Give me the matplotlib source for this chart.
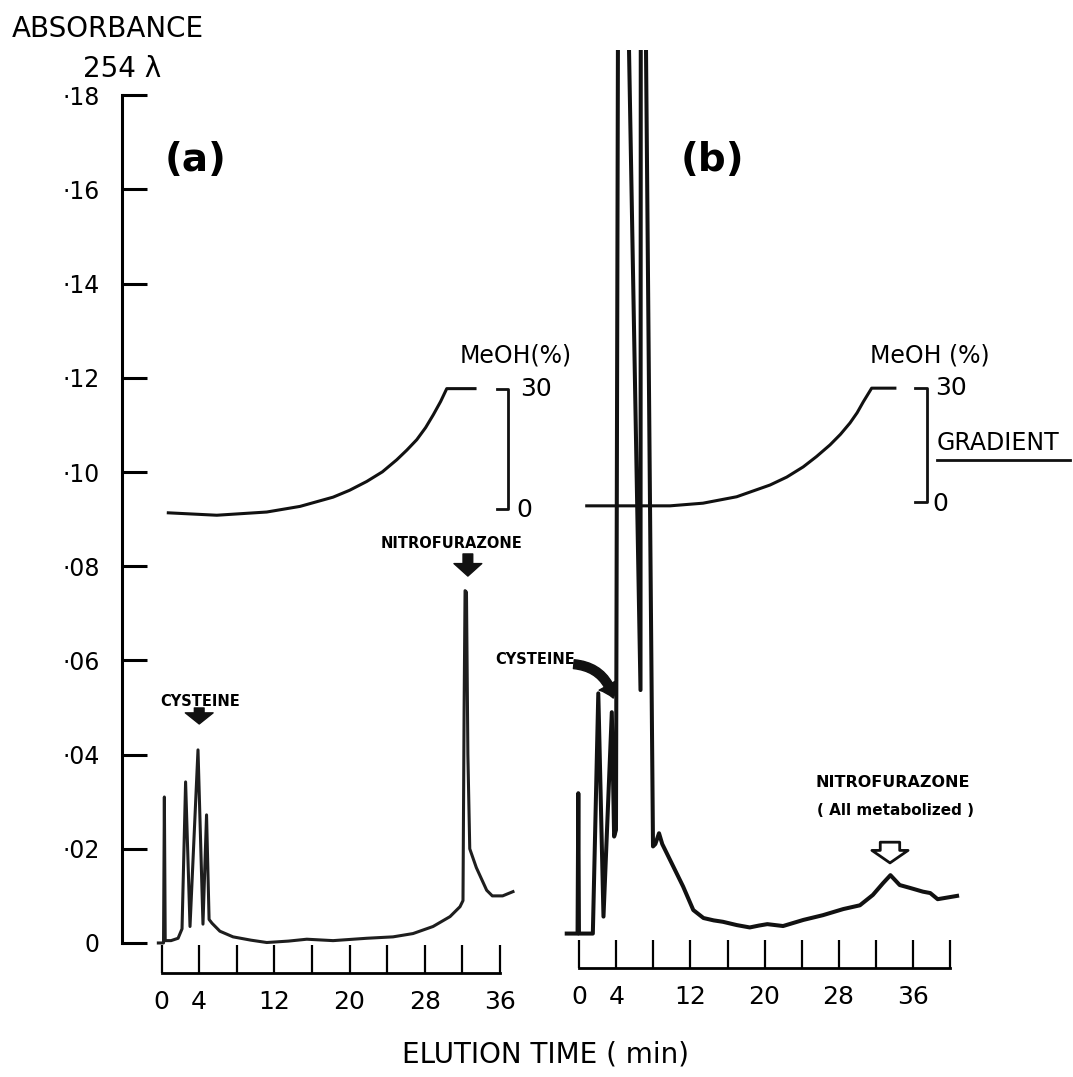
import matplotlib.pyplot as plt

plt.rcParams['font.family'] = ['DejaVu Sans']

# ---- panel (a): elution time (min) vs absorbance at 254 nm
time_a = [-0.35, 0.2, 0.29, 0.38, 1.0, 1.75, 2.17, 2.55, 3.02, 3.87, 4.4, 4.78, 5.05,
          5.36, 6.2, 7.6, 9.5, 11.19, 13.5, 15.45, 18.25, 21.83, 24.63, 26.76, 28.89,
          30.7, 31.76, 32.08, 32.2, 32.3, 32.45, 32.6, 32.8, 33.5, 34.6, 35.2, 36.3, 37.4]
abs_a = [0.0, 0.0, 0.031, 0.0005, 0.0005, 0.001, 0.003, 0.0342, 0.0035, 0.041, 0.004,
         0.0272, 0.005, 0.0042, 0.0025, 0.0013, 0.0006, 0.0001, 0.0004, 0.0008, 0.0005,
         0.001, 0.0013, 0.002, 0.0035, 0.0056, 0.0077, 0.009, 0.05, 0.0748, 0.0745,
         0.04, 0.020, 0.016, 0.0112, 0.0100, 0.0100, 0.0109]

# MeOH gradient (a), percent
grad_time_a = [0.71, 5.87, 11.19, 14.73, 18.25, 20.0, 21.83, 23.5, 25.03, 26.1, 27.16,
               28.1, 28.92, 29.7, 30.35, 33.36]
grad_pct_a = [-0.9, -1.5, -0.7, 0.7, 3.0, 4.7, 6.9, 9.3, 12.3, 14.7, 17.3, 20.3, 23.5,
              26.8, 30.0, 30.0]

# ---- panel (b)
time_b = [-1.37, -0.2, -0.12, -0.05, 1.45, 2.04, 2.6, 3.5, 3.75, 3.95, 4.3, 4.35, 6.6,
          6.65, 6.7, 7.95, 8.2, 8.6, 8.95, 9.8, 11.2, 12.3, 13.4, 14.5, 15.5, 17.0, 18.4,
          19.4, 20.3, 22.0, 24.2, 26.3, 28.5, 30.3, 31.7, 32.8, 33.6, 34.6, 35.7, 37.1,
          37.9, 38.7, 40.8]
abs_b = [0.002, 0.002, 0.0318, 0.002, 0.002, 0.053, 0.0056, 0.049, 0.0226, 0.024, 0.30,
         0.30, 0.0537, 0.30, 0.30, 0.0205, 0.021, 0.0233, 0.021, 0.0176, 0.012, 0.007,
         0.0053, 0.0048, 0.0045, 0.0038, 0.0033, 0.0037, 0.004, 0.0036, 0.0049, 0.0059,
         0.0072, 0.008, 0.0102, 0.0127, 0.0144, 0.0123, 0.0117, 0.0109, 0.0106, 0.0093,
         0.010]

grad_time_b = [0.79, 9.79, 13.35, 16.99, 20.59, 22.4, 24.18, 25.6, 27.07, 28.2, 29.23,
               30.0, 30.67, 31.57, 34.08]
grad_pct_b = [-1.1, -1.1, -0.4, 1.3, 4.4, 6.5, 9.2, 11.9, 15.0, 17.8, 20.8, 23.5, 26.4,
              30.0, 30.0]

abs_ticks = [0, 0.02, 0.04, 0.06, 0.08, 0.10, 0.12, 0.14, 0.16, 0.18]
abs_labels = ['0', '·02', '·04', '·06', '·08', '·10', '·12', '·14', '·16', '·18']
time_ticks_a = [0, 4, 8, 12, 16, 20, 24, 28, 32, 36]
time_labels_a = ['0', '4', '', '12', '', '20', '', '28', '', '36']
time_ticks_b = [0, 4, 8, 12, 16, 20, 24, 28, 32, 36, 40]
time_labels_b = ['0', '4', '', '12', '', '20', '', '28', '', '36', '']

# gradient scale bars: absorbance level of 0 % and 30 % MeOH
grad_zero_a, grad_top_a = 0.0921, 0.1177
grad_zero_b, grad_top_b = 0.0937, 0.1178


def pct_to_abs(pct, zero, top):
    return [zero + p / 30.0 * (top - zero) for p in pct]


W, H = 1073, 1077
fig = plt.figure(figsize=(W / 100, H / 100), dpi=100)
ylim = (-0.012, 0.1896)
bottom = 1 - 999.5 / H
height = 949.5 / H
ax_a = fig.add_axes([122 / W, bottom, 401.3 / W, height])
ax_b = fig.add_axes([560.9 / W, bottom, 407.3 / W, height])
ax_a.set_xlim(-4.22, 38.5)
ax_b.set_xlim(-2, 42)
for ax in (ax_a, ax_b):
    ax.set_ylim(*ylim)
    ax.patch.set_visible(False)
    for s in ('top', 'right'):
        ax.spines[s].set_visible(False)

ink = '#111111'

# traces
ax_a.plot(time_a, abs_a, color='#1e1e1e', lw=2.2, solid_joinstyle='round')
ax_b.plot(time_b, abs_b, color=ink, lw=2.9, solid_joinstyle='round')

ax_a.plot(grad_time_a, pct_to_abs(grad_pct_a, grad_zero_a, grad_top_a), color=ink, lw=2.2)
ax_b.plot(grad_time_b, pct_to_abs(grad_pct_b, grad_zero_b, grad_top_b), color=ink, lw=2.2)

# y axis (a)
ax_a.spines['left'].set_bounds(0, 0.18)
ax_a.spines['left'].set_linewidth(2.2)
ax_a.set_yticks(abs_ticks)
ax_a.set_yticklabels(abs_labels)
ax_a.tick_params(axis='y', direction='in', length=18, width=2.2, pad=16, labelsize=17)
ax_b.spines['left'].set_visible(False)
ax_b.set_yticks([])

# time bars
for ax, pos, ticks, labels in ((ax_a, -0.0064, time_ticks_a, time_labels_a),
                               (ax_b, -0.0053, time_ticks_b, time_labels_b)):
    ax.spines['bottom'].set_position(('data', pos))
    ax.spines['bottom'].set_bounds(ticks[0], ticks[-1])
    ax.spines['bottom'].set_linewidth(2.0)
    ax.set_xticks(ticks)
    ax.set_xticklabels(labels)
    ax.tick_params(axis='x', direction='in', length=20, width=1.6, pad=12, labelsize=18)

# gradient brackets
for ax, x0, x1, zero, top in ((ax_a, 35.7, 36.9, grad_zero_a, grad_top_a),
                              (ax_b, 36.25, 37.55, grad_zero_b, grad_top_b)):
    ax.plot([x0, x1, x1, x0], [top, top, zero, zero], color=ink, lw=2.0, clip_on=False)

ax_a.text(38.15, grad_top_a, '30', fontsize=18, ha='left', va='center')
ax_a.text(37.8, grad_zero_a - 0.0002, '0', fontsize=18, ha='left', va='center')
ax_a.text(37.7, 0.1248, 'MeOH(%)', fontsize=17, ha='center', va='center')

ax_b.text(38.4, grad_top_b, '30', fontsize=18, ha='left', va='center')
ax_b.text(38.1, grad_zero_b - 0.0004, '0', fontsize=18, ha='left', va='center')
ax_b.text(37.9, 0.1248, 'MeOH (%)', fontsize=17, ha='center', va='center')
ax_b.text(38.6, 0.1062, 'GRADIENT', fontsize=17, ha='left', va='center')
ax_b.plot([38.6, 53.0], [0.1025, 0.1025], color=ink, lw=2.0, clip_on=False)

# panel letters
ax_a.text(3.6, 0.1662, '(a)', fontsize=28, fontweight='bold', ha='center', va='center')
ax_b.text(14.33, 0.1662, '(b)', fontsize=28, fontweight='bold', ha='center', va='center')

# peak labels (a)
ax_a.text(4.09, 0.0512, 'CYSTEINE', fontsize=10.5, fontweight='bold', ha='center', va='center')
ax_a.annotate('', xy=(4.0, 0.0465), xytext=(4.0, 0.0499),
              arrowprops=dict(arrowstyle='simple,head_length=0.4,head_width=1.0,tail_width=0.35',
                              fc=ink, ec=ink, mutation_scale=20, shrinkA=0, shrinkB=0))
ax_a.text(30.9, 0.0849, 'NITROFURAZONE', fontsize=10.5, fontweight='bold', ha='center', va='center')
ax_a.annotate('', xy=(32.6, 0.0779), xytext=(32.6, 0.0826),
              arrowprops=dict(arrowstyle='simple,head_length=0.45,head_width=1.0,tail_width=0.35',
                              fc=ink, ec=ink, mutation_scale=20, shrinkA=0, shrinkB=0))

# peak labels (b)
ax_b.text(-4.8, 0.0601, 'CYSTEINE', fontsize=10.5, fontweight='bold', ha='center', va='center')
ax_b.annotate('', xy=(3.66, 0.052), xytext=(-0.6, 0.0592),
              arrowprops=dict(arrowstyle='simple,head_length=0.5,head_width=0.75,tail_width=0.32',
                              connectionstyle='arc3,rad=-0.35',
                              fc=ink, ec=ink, mutation_scale=20, shrinkA=0, shrinkB=0))
ax_b.text(33.87, 0.034, 'NITROFURAZONE', fontsize=11.5, fontweight='bold', ha='center', va='center')
ax_b.text(34.1, 0.0282, '( All metabolized )', fontsize=11, fontweight='bold', ha='center', va='center')
ax_b.annotate('', xy=(33.55, 0.0170), xytext=(33.55, 0.0214),
              arrowprops=dict(arrowstyle='simple,head_length=0.45,head_width=1.3,tail_width=0.7',
                              fc='white', ec=ink, lw=2, mutation_scale=20, shrinkA=0, shrinkB=0))

# axis titles
fig.text(12 / W, 1 - 29 / H, 'ABSORBANCE', fontsize=20, ha='left', va='center')
fig.text(122 / W, 1 - 69 / H, '254 λ', fontsize=20, ha='center', va='center')
fig.text(546 / W, 1 - 1055 / H, 'ELUTION TIME ( min)', fontsize=20, ha='center', va='center')

fig.savefig('out.png', dpi=100, facecolor='white')
